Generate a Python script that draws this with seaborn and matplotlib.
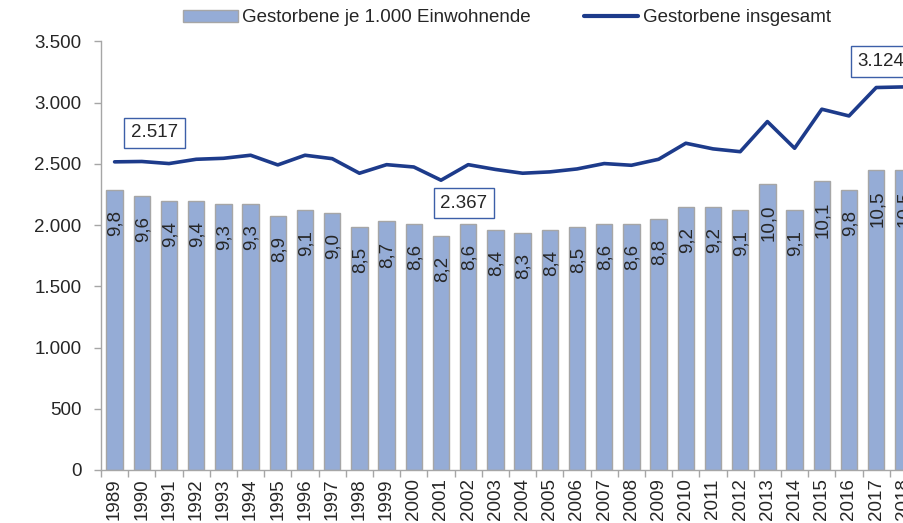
import numpy as np
import matplotlib
matplotlib.use("Agg")
import matplotlib.pyplot as plt
from matplotlib.patches import Patch
from matplotlib.lines import Line2D
from matplotlib.ticker import FuncFormatter
import seaborn as sns

# Daten
jahre = [str(j) for j in range(1989, 2019)]
je_1000 = [9.8, 9.6, 9.4, 9.4, 9.3, 9.3, 8.9, 9.1, 9.0, 8.5,
           8.7, 8.6, 8.2, 8.6, 8.4, 8.3, 8.4, 8.5, 8.6, 8.6,
           8.8, 9.2, 9.2, 9.1, 10.0, 9.1, 10.1, 9.8, 10.5, 10.5]
insgesamt = [2517, 2520, 2503, 2538, 2546, 2571, 2492, 2571, 2543, 2424,
             2494, 2475, 2367, 2494, 2455, 2424, 2435, 2459, 2503, 2489,
             2538, 2669, 2623, 2600, 2846, 2628, 2947, 2892, 3124, 3129]
# Beschriftete Werte (Index, Versatz in Pixel)
markiert = [(0, 40, 29), (12, 23, -23), (28, 5, 26)]

farbe_balken = '#95acd6'
rand_balken = '#a6a6a6'
farbe_linie = '#1d3b8b'
textfarbe = '#262626'

sns.set_theme(style='white')
plt.rcParams['font.family'] = ['Liberation Sans', 'DejaVu Sans']

fig = plt.figure(figsize=(9.04, 5.23), dpi=100)
ax = fig.add_axes([101 / 904, 53 / 523, 816 / 904, 428.5 / 523])
ax2 = ax.twinx()

# Balken: Gestorbene je 1.000 Einwohnende (verdeckte Nebenachse 0-15)
sns.barplot(x=jahre, y=je_1000, ax=ax2, color=farbe_balken, saturation=1,
            width=0.61, edgecolor=rand_balken, linewidth=1)
ax2.set_ylim(0, 15)
ax2.yaxis.set_visible(False)
for s in ax2.spines.values():
    s.set_visible(False)
for i, v in enumerate(je_1000):
    ax2.annotate(f"{v:.1f}".replace('.', ','), (i, v), xytext=(1, -20),
                 textcoords='offset pixels', rotation=90, ha='center', va='top',
                 fontsize=13.5, color=textfarbe)

# Linie: Gestorbene insgesamt
x = np.arange(len(jahre))
sns.lineplot(x=x, y=insgesamt, ax=ax, color=farbe_linie, linewidth=2.6)
ax.set_zorder(ax2.get_zorder() + 1)
ax.patch.set_visible(False)

for i, dx, dy in markiert:
    ax.annotate(f"{insgesamt[i]:,}".replace(',', '.'), (i, insgesamt[i]),
                xytext=(dx, dy), textcoords='offset pixels', ha='center', va='center',
                fontsize=13.5, color=textfarbe,
                bbox=dict(boxstyle='square,pad=0.36', fc='white', ec='#3c5fa8', lw=1))

ax.set_ylim(0, 3500)
ax.set_yticks(range(0, 3501, 500))
ax.yaxis.set_major_formatter(FuncFormatter(lambda v, p: f"{int(v):,}".replace(',', '.')))
ax.set_xlim(-0.5, len(jahre) - 0.5)
ax.set_xticks(x)
ax.set_xticklabels(jahre, rotation=90, va='top')
ax.set_xticks(np.arange(-0.5, len(jahre), 1), minor=True)
ax.tick_params(axis='x', which='major', length=0, pad=6, labelsize=13.5, labelcolor=textfarbe)
ax.tick_params(axis='x', which='minor', length=5, width=1, color=rand_balken, bottom=True)
ax.tick_params(axis='y', length=5, width=1, color=rand_balken, left=True, pad=9,
               labelsize=13.5, labelcolor=textfarbe)
ax.set_xlabel('')
ax.set_ylabel('')
for s in ['top', 'right']:
    ax.spines[s].set_visible(False)
for s in ['left', 'bottom']:
    ax.spines[s].set_color(rand_balken)
    ax.spines[s].set_linewidth(1)

griffe = [Patch(facecolor=farbe_balken, edgecolor=rand_balken, linewidth=1),
          Line2D([0], [0], color=farbe_linie, linewidth=3)]
fig.legend(griffe, ['Gestorbene je 1.000 Einwohnende', 'Gestorbene insgesamt'],
           loc='center', bbox_to_anchor=(507 / 904, 1 - 18 / 523), ncol=2, frameon=False,
           fontsize=13.5, handlelength=2.9, handleheight=0.55, handletextpad=0.25,
           columnspacing=2.8, labelcolor=textfarbe)

fig.savefig('out.png', dpi=100)
